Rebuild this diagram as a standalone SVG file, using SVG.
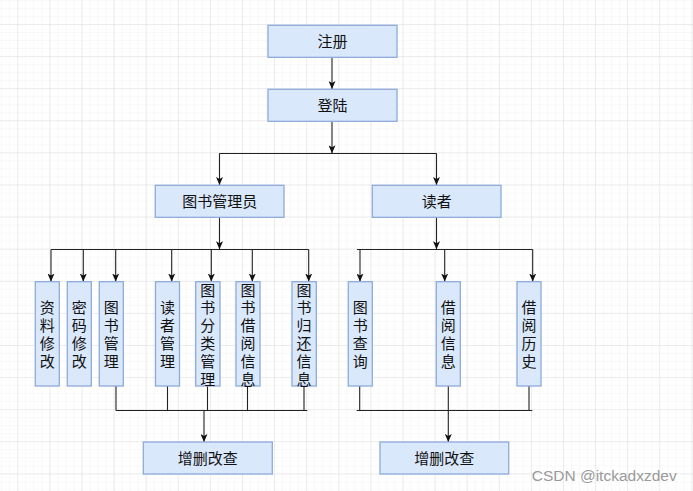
<svg xmlns="http://www.w3.org/2000/svg" width="693" height="491" viewBox="0 0 693 491">
<style>
.box{fill:#dae8fc;stroke:#8eaadb;stroke-width:1.3}
.t{font-family:"Liberation Sans","Noto Sans CJK SC",sans-serif;font-size:15px;fill:#111;text-anchor:middle;dominant-baseline:central}
.c{fill:none;stroke:#222;stroke-width:1.1}
.a{marker-end:url(#ar)}
</style>
<defs>
<pattern id="gm" width="8.025" height="8.025" patternUnits="userSpaceOnUse" x="17.3" y="24">
<path d="M0,0H8.025M0,0V8.025" stroke="#f2f2f2" stroke-width="1" fill="none"/>
</pattern>
<pattern id="gM" width="32.1" height="32.1" patternUnits="userSpaceOnUse" x="17.3" y="24">
<path d="M0,0H32.1M0,0V32.1" stroke="#dedede" stroke-width="1" fill="none"/>
</pattern>
<marker id="ar" viewBox="0 0 8 7" refX="8" refY="3.5" markerWidth="8" markerHeight="7" markerUnits="userSpaceOnUse" orient="auto">
<path d="M0,0 L8,3.5 L0,7 L2,3.5 Z" fill="#111"/>
</marker>
</defs>
<rect width="693" height="491" fill="#fff"/>
<rect width="693" height="491" fill="url(#gm)"/>
<rect width="693" height="491" fill="url(#gM)"/>

<g id="connectors">
<path class="c a" d="M332,57.3V89"/>
<path class="c a" d="M332,121.3V153.3"/>
<path class="c" d="M219.5,153.5H436.5"/>
<path class="c a" d="M219.5,153.5V185"/>
<path class="c a" d="M436.5,153.5V185"/>
<path class="c a" d="M219.5,217.3V249.3"/>
<path class="c" d="M51,249.5H308.7"/>
<path class="c a" d="M51,249.5V281.5"/>
<path class="c a" d="M83.3,249.5V281.5"/>
<path class="c a" d="M115.7,249.5V281.5"/>
<path class="c a" d="M171.7,249.5V281.5"/>
<path class="c a" d="M211.3,249.5V281.5"/>
<path class="c a" d="M252.3,249.5V281.5"/>
<path class="c a" d="M308.7,249.5V281.5"/>
<path class="c a" d="M436.5,217.3V249.3"/>
<path class="c" d="M357,249.5H532.7"/>
<path class="c a" d="M360,249.5V281.5"/>
<path class="c a" d="M444.7,249.5V281.5"/>
<path class="c a" d="M532.7,249.5V281.5"/>
<path class="c" d="M116,386V410M167.5,386V410M207.5,386V410M247.5,386V410M304,386V410"/>
<path class="c" d="M115.7,410.5H307.3"/>
<path class="c a" d="M204,410.5V442"/>
<path class="c" d="M359.7,386V410M448.3,386V410M529,386V410"/>
<path class="c" d="M356.7,410.5H532.3"/>
<path class="c a" d="M448.3,410.5V442"/>
</g>

<g id="n_zhuce"><rect class="box" x="268" y="25.3" width="129" height="32"/><text class="t" x="332.5" y="41.3">注册</text></g>
<g id="n_denglu"><rect class="box" x="268" y="89.3" width="129" height="32"/><text class="t" x="332.5" y="105.3">登陆</text></g>
<g id="n_admin"><rect class="box" x="155.3" y="185.3" width="128.7" height="32"/><text class="t" x="219.7" y="201.3">图书管理员</text></g>
<g id="n_reader"><rect class="box" x="372.3" y="185.3" width="128.7" height="32"/><text class="t" x="436.7" y="201.3">读者</text></g>

<g id="n_ziliao"><rect class="box" x="35.3" y="281.7" width="24" height="104.3"/><text class="t" x="47.3"><tspan x="47.3" y="307.3">资</tspan><tspan x="47.3" y="325.1">料</tspan><tspan x="47.3" y="342.9">修</tspan><tspan x="47.3" y="360.7">改</tspan></text></g>
<g id="n_mima"><rect class="box" x="67.3" y="281.7" width="24" height="104.3"/><text class="t" x="79.3"><tspan x="79.3" y="307.3">密</tspan><tspan x="79.3" y="325.1">码</tspan><tspan x="79.3" y="342.9">修</tspan><tspan x="79.3" y="360.7">改</tspan></text></g>
<g id="n_tsgl"><rect class="box" x="99.3" y="281.7" width="24" height="104.3"/><text class="t" x="111.3"><tspan x="111.3" y="307.3">图</tspan><tspan x="111.3" y="325.1">书</tspan><tspan x="111.3" y="342.9">管</tspan><tspan x="111.3" y="360.7">理</tspan></text></g>
<g id="n_dzgl"><rect class="box" x="155.5" y="281.7" width="24" height="104.3"/><text class="t" x="167.5"><tspan x="167.5" y="307.3">读</tspan><tspan x="167.5" y="325.1">者</tspan><tspan x="167.5" y="342.9">管</tspan><tspan x="167.5" y="360.7">理</tspan></text></g>
<g id="n_fenlei"><rect class="box" x="195.7" y="281.7" width="24.3" height="104.3"/><text class="t" x="207.8"><tspan x="207.8" y="289.5">图</tspan><tspan x="207.8" y="307.3">书</tspan><tspan x="207.8" y="325.1">分</tspan><tspan x="207.8" y="342.9">类</tspan><tspan x="207.8" y="360.7">管</tspan><tspan x="207.8" y="378.5">理</tspan></text></g>
<g id="n_jieyue"><rect class="box" x="236" y="281.7" width="24" height="104.3"/><text class="t" x="248"><tspan x="248" y="289.5">图</tspan><tspan x="248" y="307.3">书</tspan><tspan x="248" y="325.1">借</tspan><tspan x="248" y="342.9">阅</tspan><tspan x="248" y="360.7">信</tspan><tspan x="248" y="378.5">息</tspan></text></g>
<g id="n_guihuan"><rect class="box" x="292" y="281.7" width="24.3" height="104.3"/><text class="t" x="304.1"><tspan x="304.1" y="289.5">图</tspan><tspan x="304.1" y="307.3">书</tspan><tspan x="304.1" y="325.1">归</tspan><tspan x="304.1" y="342.9">还</tspan><tspan x="304.1" y="360.7">信</tspan><tspan x="304.1" y="378.5">息</tspan></text></g>

<g id="n_chaxun"><rect class="box" x="348.3" y="281.7" width="24" height="104.3"/><text class="t" x="360.3"><tspan x="360.3" y="307.3">图</tspan><tspan x="360.3" y="325.1">书</tspan><tspan x="360.3" y="342.9">查</tspan><tspan x="360.3" y="360.7">询</tspan></text></g>
<g id="n_jyxx"><rect class="box" x="436.3" y="281.7" width="24" height="104.3"/><text class="t" x="448.3"><tspan x="448.3" y="307.3">借</tspan><tspan x="448.3" y="325.1">阅</tspan><tspan x="448.3" y="342.9">信</tspan><tspan x="448.3" y="360.7">息</tspan></text></g>
<g id="n_jyls"><rect class="box" x="517" y="281.7" width="24" height="104.3"/><text class="t" x="529"><tspan x="529" y="307.3">借</tspan><tspan x="529" y="325.1">阅</tspan><tspan x="529" y="342.9">历</tspan><tspan x="529" y="360.7">史</tspan></text></g>

<g id="n_crud1"><rect class="box" x="143.3" y="442" width="129" height="32"/><text class="t" x="207.8" y="458">增删改查</text></g>
<g id="n_crud2"><rect class="box" x="380" y="442" width="128.7" height="32"/><text class="t" x="444.3" y="458">增删改查</text></g>

<text x="531.7" y="481" font-family="'Liberation Sans',sans-serif" font-size="15.5" fill="#9a9a9a">CSDN @itckadxzdev</text>
</svg>
